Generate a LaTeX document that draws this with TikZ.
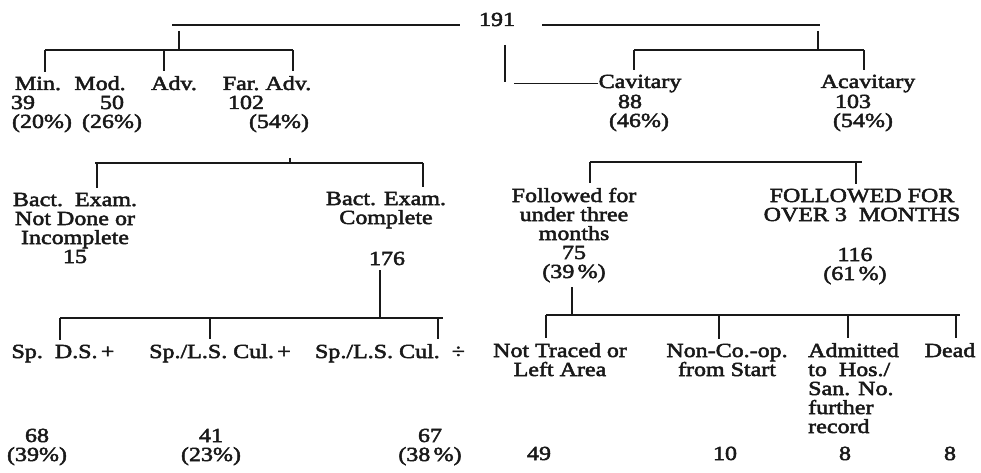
\documentclass[tikz,border=0pt]{standalone}
\usepackage{fontspec}
\setmainfont{Liberation Serif}[FakeStretch=1.2,FakeBold=2.5]
\usepackage{xcolor}
\usepackage{tikz}
\usetikzlibrary{calc}
\definecolor{ink}{gray}{0.1}

\begin{document}
\begin{tikzpicture}[
  x=1pt, y=-1pt,
  lbl/.style={inner sep=0pt, anchor=base, align=center, text=ink,
              font=\fontsize{20}{19}\selectfont},
  tie/.style={draw=ink, line width=1.1pt},
  drop/.style={tie, shorten >=5pt}]
\useasboundingbox (0,0) rectangle (981,473);

% page head
\node[lbl] (page) at (497,26) {191};
\draw[tie] (172,25) -- (460,25);
\draw[tie] (542,25) -- (820,25);

% extent of disease
\node[lbl] (min)  at (38,90)  {Min.};
\node[lbl] (mod)  at (100,90) {Mod.};
\node[lbl] (adv)  at (174,90) {Adv.};
\node[lbl] (fadv) at (267,90) {Far.\ Adv.};
\node[lbl] (n39)  at (23,109)  {39};
\node[lbl] (n50)  at (112,109) {50};
\node[lbl] (n102) at (246,109) {102};
\node[lbl] (p20)  at (42,128)  {(20\%)};
\node[lbl] (p26)  at (112,128) {(26\%)};
\node[lbl] (p54)  at (279,128) {(54\%)};

\draw[tie] (179,31) -- (179,50);
\draw[tie] (45,50) -- (293,50);
\foreach \x/\n in {45/min, 164/adv, 293/fadv}{
  \coordinate (d) at (\x,50);
  \draw[drop] (d) -- (d |- \n.north);
}

% cavitation
\node[lbl] (cav)   at (640,88)  {Cavitary};
\node[lbl] (cavn)  at (630,108) {88};
\node[lbl] (cavp)  at (639,127) {(46\%)};
\node[lbl] (acav)  at (868,88)  {Acavitary};
\node[lbl] (acavn) at (853,108) {103};
\node[lbl] (acavp) at (863,127) {(54\%)};

\draw[tie] (818,31) -- (818,50);
\draw[tie] (634,50) -- (864,50);
\foreach \x/\n in {634/cav, 864/acav}{
  \coordinate (d) at (\x,50);
  \draw[drop] (d) -- (d |- \n.north);
}
\draw[tie] (505,45) -- (505,82);
\draw[tie] (cav.west) -- ++(-84,0);

% bacteriology (multi-line nodes sit on their last line)
\node[lbl] (bnd)   at (75,263)  {Bact.\ \ Exam.\\Not Done or\\Incomplete\\15};
\node[lbl] (bcomp) at (386,224) {Bact. Exam.\\Complete};
\node[lbl] (n176)  at (387,265) {176};

\draw[tie] (95,163) -- (423,163);
\draw[tie] (290,158) -- (290,163);
\foreach \x/\n in {97/bnd, 423/bcomp}{
  \coordinate (d) at (\x,163);
  \draw[drop] (d) -- (d |- \n.north);
}

% follow-up
\node[lbl] (fu3)  at (574,278) {Followed for\\under three\\months\\75\\(39\,\%)};
\node[lbl] (fo3)  at (862,221) {FOLLOWED FOR\\OVER 3\ \ MONTHS};
\node[lbl] (n116) at (855,280) {116\\(61\,\%)};

\draw[tie] (590,162) -- (862,162);
\foreach \x/\n in {590/fu3, 856/fo3}{
  \coordinate (d) at (\x,162);
  \draw[drop] (d) -- (d |- \n.north);
}

% sputum results
\node[lbl] (sds) at (63,358)  {Sp.\ \ D.S.\,+};
\node[lbl] (slc) at (220,358) {Sp./L.S. Cul.\,+};
\node[lbl] (sln) at (390,358) {Sp./L.S. Cul.\ \ ÷};
\node[lbl] (n68) at (37,461)  {68\\(39\%)};
\node[lbl] (n41) at (211,461) {41\\(23\%)};
\node[lbl] (n67) at (430,461) {67\\(38\,\%)};

\coordinate (stemE) at (380,318);
\draw[drop] (stemE) -- (stemE |- n176.south);
\draw[tie] (60,318) -- (443,318);
\foreach \x/\n in {60/sds, 210/slc, 438/sln}{
  \coordinate (d) at (\x,318);
  \draw[drop] (d) -- (d |- \n.north);
}

% short follow-up outcome
\node[lbl] (ntr)  at (560,376) {Not Traced or\\Left Area};
\node[lbl] (nco)  at (727,376) {Non-Co.-op.\\from Start};
\node[lbl, anchor=base west, align=left] (adm) at (808,433)
  {Admitted\\to\ \ Hos./\\San. No.\\further\\record};
\node[lbl] (dead) at (950,357) {Dead};
\node[lbl] (n49)  at (539,460) {49};
\node[lbl] (n10)  at (725,460) {10};
\node[lbl] (n8a)  at (845,460) {8};
\node[lbl] (n8b)  at (950,460) {8};

\coordinate (stemF) at (572,315);
\draw[drop] (stemF) -- (stemF |- fu3.south);
\draw[tie] (546,315) -- (960,315);
\foreach \x/\n in {546/ntr, 719/nco, 848/adm, 956/dead}{
  \coordinate (d) at (\x,315);
  \draw[drop] (d) -- (d |- \n.north);
}
\end{tikzpicture}
\end{document}
